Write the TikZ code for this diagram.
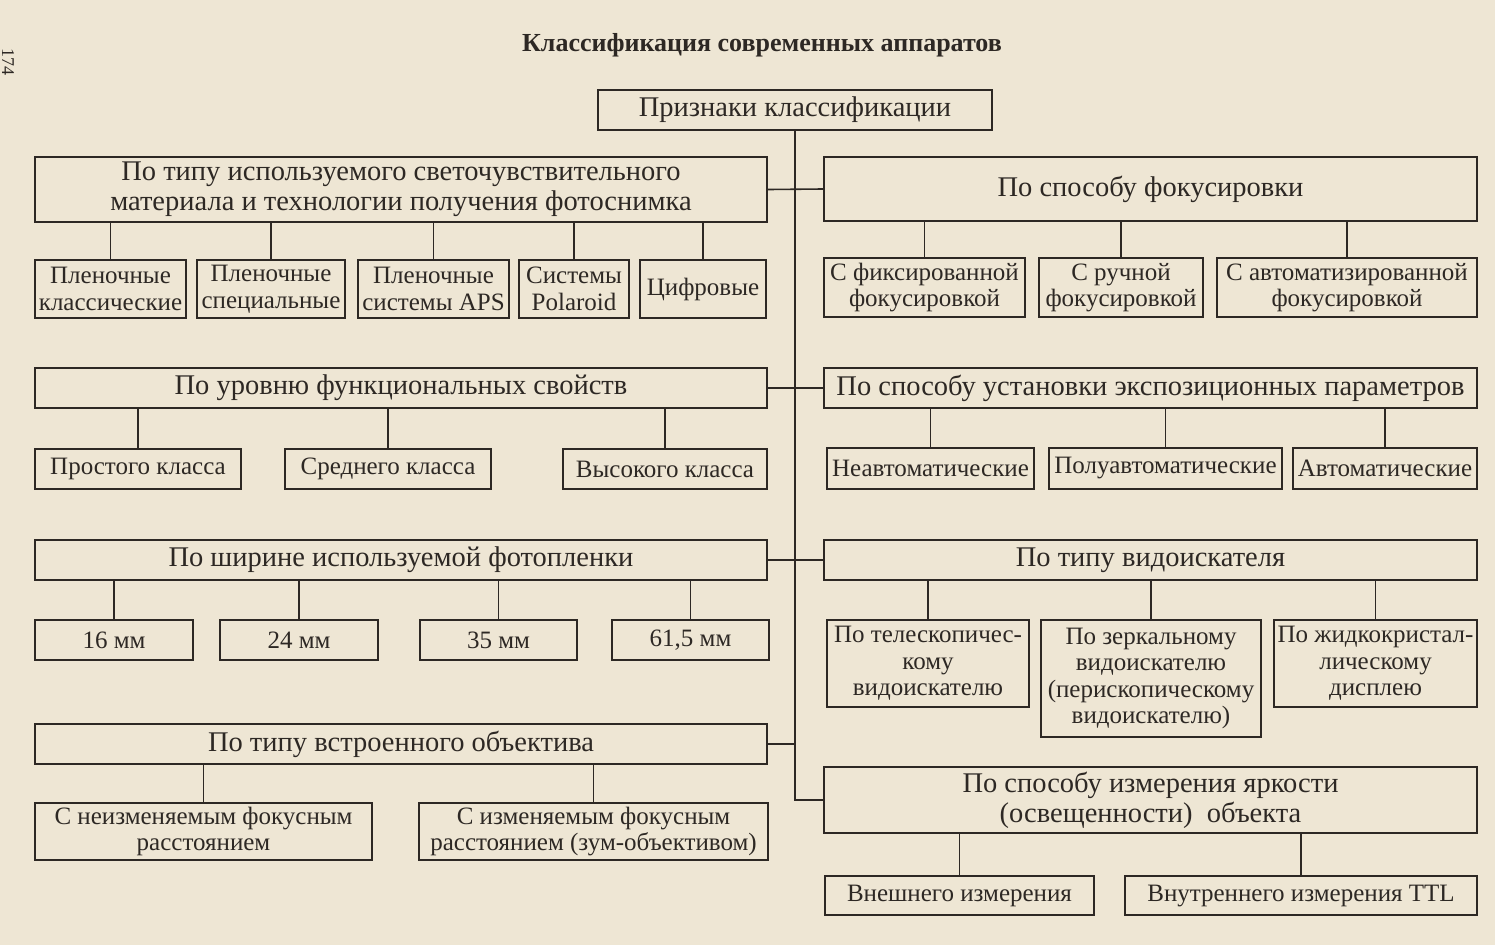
\documentclass[tikz,border=0pt]{standalone}
\usepackage{fontspec}
\setmainfont{Liberation Serif}
\usetikzlibrary{positioning}
\definecolor{paper}{RGB}{238,230,212}
\definecolor{ink}{RGB}{45,40,36}

\begin{document}
\begin{tikzpicture}[
    x=1pt, y=-1pt,
    crit/.style={rectangle, draw=ink, line width=2pt, text=ink, inner sep=1pt,
                 align=center, font=\fontsize{28.5}{30}\selectfont},
    kind/.style={rectangle, draw=ink, line width=2pt, text=ink, inner sep=1pt,
                 align=center, font=\fontsize{25}{26.5}\selectfont},
    link/.style={draw=ink, line width=1.6pt},
]
    \fill[paper] (0,0) rectangle (1495,945);
    \useasboundingbox (0,0) rectangle (1495,945);

    \node[rotate=-90, text=ink, font=\fontsize{18}{18}\selectfont] (pgnum) at (8,62) {174};
    \node[text=ink, font=\fontsize{26}{30}\selectfont\bfseries] (title) at (762,45)
        {Классификация современных аппаратов};

    \node[crit, minimum width=394pt, minimum height=40pt] (root) at (795,110)
        {Признаки классификации};

    % left column
    \node[crit, minimum width=732pt, minimum height=65pt] (l1) at (401,189.5)
        {По типу используемого светочувствительного\\материала и технологии получения фотоснимка};
    \node[kind, minimum width=151pt, minimum height=58pt] (c11) at (110.5,289) {Пленочные\\классические};
    \node[kind, minimum width=148pt, minimum height=58pt] (c12) at (271,289) {Пленочные\\специальные};
    \node[kind, minimum width=151pt, minimum height=58pt] (c13) at (433.5,289) {Пленочные\\системы APS};
    \node[kind, minimum width=110pt, minimum height=58pt] (c14) at (574,289) {Системы\\Polaroid};
    \node[kind, minimum width=126pt, minimum height=58pt] (c15) at (703,289) {Цифровые};

    \node[crit, minimum width=732pt, minimum height=40pt] (l2) at (401,388)
        {По уровню функциональных свойств};
    \node[kind, minimum width=206pt, minimum height=40pt] (c21) at (138,469) {Простого класса};
    \node[kind, minimum width=206pt, minimum height=40pt] (c22) at (388,469) {Среднего класса};
    \node[kind, minimum width=204pt, minimum height=40pt] (c23) at (665,469) {Высокого класса};

    \node[crit, minimum width=732pt, minimum height=40pt] (l3) at (401,560)
        {По ширине используемой фотопленки};
    \node[kind, minimum width=158pt, minimum height=40pt] (c31) at (114,640) {16 мм};
    \node[kind, minimum width=158pt, minimum height=40pt] (c32) at (299,640) {24 мм};
    \node[kind, minimum width=157pt, minimum height=40pt] (c33) at (498.5,640) {35 мм};
    \node[kind, minimum width=157pt, minimum height=40pt] (c34) at (690.5,640) {61,5 мм};

    \node[crit, minimum width=732pt, minimum height=40pt] (l4) at (401,744)
        {По типу встроенного объектива};
    \node[kind, minimum width=337pt, minimum height=57pt] (c41) at (203.5,831.5)
        {С неизменяемым фокусным\\расстоянием};
    \node[kind, minimum width=349pt, minimum height=57pt] (c42) at (593.5,831.5)
        {С изменяемым фокусным\\расстоянием (зум-объективом)};

    % right column
    \node[crit, minimum width=653pt, minimum height=64pt] (r1) at (1150.5,189)
        {По способу фокусировки};
    \node[kind, minimum width=201pt, minimum height=59pt] (d11) at (924.5,287.5) {С фиксированной\\фокусировкой};
    \node[kind, minimum width=164pt, minimum height=59pt] (d12) at (1121,287.5) {С ручной\\фокусировкой};
    \node[kind, minimum width=260pt, minimum height=59pt] (d13) at (1347,287.5) {С автоматизированной\\фокусировкой};

    \node[crit, minimum width=653pt, minimum height=40pt] (r2) at (1150.5,388)
        {По способу установки экспозиционных параметров};
    \node[kind, minimum width=207pt, minimum height=41pt] (d21) at (930.5,468.5) {Неавтоматические};
    \node[kind, minimum width=233pt, minimum height=41pt] (d22) at (1165.5,468.5) {Полуавтоматические};
    \node[kind, minimum width=184pt, minimum height=41pt] (d23) at (1385,468.5) {Автоматические};

    \node[crit, minimum width=653pt, minimum height=40pt] (r3) at (1150.5,560)
        {По типу видоискателя};
    \node[kind, minimum width=202pt, minimum height=87pt] (d31) at (928,663.5)
        {По телескопичес-\\кому\\видоискателю};
    \node[kind, minimum width=220pt, minimum height=117pt] (d32) at (1151,678.5)
        {По зеркальному\\видоискателю\\(перископическому\\видоискателю)};
    \node[kind, minimum width=203pt, minimum height=87pt] (d33) at (1375.5,663.5)
        {По жидкокристал-\\лическому\\дисплею};

    \node[crit, minimum width=653pt, minimum height=66pt] (r4) at (1150.5,800)
        {По способу измерения яркости\\(освещенности)\ \ объекта};
    \node[kind, minimum width=269pt, minimum height=39pt] (d41) at (959.5,895.5) {Внешнего измерения};
    \node[kind, minimum width=352pt, minimum height=39pt] (d42) at (1301,895.5) {Внутреннего измерения TTL};

    % spine and branches
    \draw[link] (root.south) |- (r4.west);
    \draw[link] (l1.east) -- (r1.west);
    \draw[link] (l2.east) -- (r2.west);
    \draw[link] (l3.east) -- (r3.west);
    \draw[link] (l4.east) -- (l4.east -| root.south);

    \foreach \c in {c11,c12,c13,c14,c15} \draw[link] (l1.south -| \c.north) -- (\c.north);
    \foreach \c in {c21,c22,c23} \draw[link] (l2.south -| \c.north) -- (\c.north);
    \foreach \c in {c31,c32,c33,c34} \draw[link] (l3.south -| \c.north) -- (\c.north);
    \foreach \c in {c41,c42} \draw[link] (l4.south -| \c.north) -- (\c.north);
    \foreach \c in {d11,d12,d13} \draw[link] (r1.south -| \c.north) -- (\c.north);
    \foreach \c in {d21,d22,d23} \draw[link] (r2.south -| \c.north) -- (\c.north);
    \foreach \c in {d31,d32,d33} \draw[link] (r3.south -| \c.north) -- (\c.north);
    \foreach \c in {d41,d42} \draw[link] (r4.south -| \c.north) -- (\c.north);
\end{tikzpicture}
\end{document}
